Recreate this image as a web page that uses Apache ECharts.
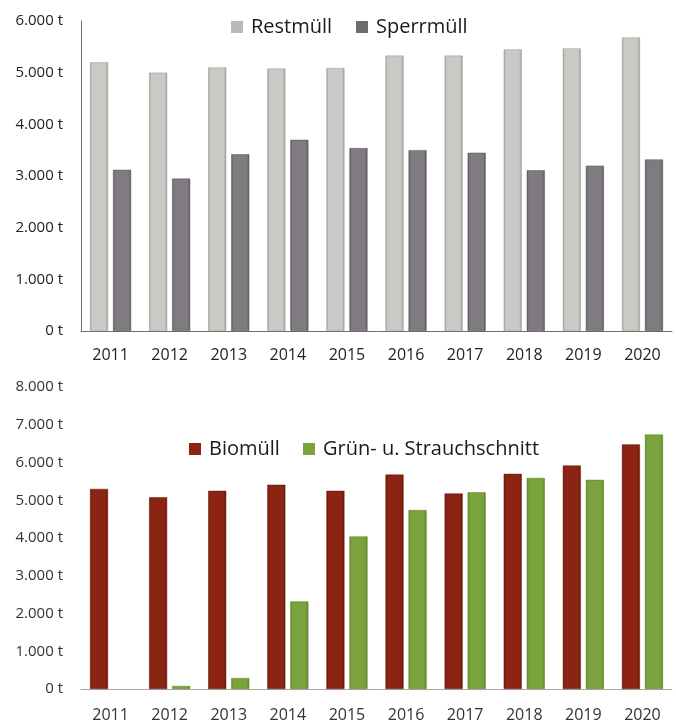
<!DOCTYPE html>
<html>
<head>
<meta charset="utf-8">
<script src="https://cdn.jsdelivr.net/npm/echarts@6/dist/echarts.min.js"></script>
<style>
html,body{margin:0;padding:0;background:#fff;}
#c{width:676px;height:723px;}
</style>
</head>
<body>
<div id="c"></div>
<script>
const years = ['2011','2012','2013','2014','2015','2016','2017','2018','2019','2020'];
const restmuell = [5200, 5000, 5100, 5080, 5090, 5330, 5330, 5450, 5470, 5680];
const sperrmuell = [3120, 2950, 3420, 3700, 3540, 3500, 3450, 3110, 3200, 3320];
const biomuell = [5300, 5080, 5250, 5410, 5250, 5680, 5180, 5700, 5920, 6480];
const gruen = [null, 80, 290, 2320, 4040, 4740, 5210, 5590, 5540, 6740];
const topTicks = {min: 0, max: 6000, interval: 1000};
const botTicks = {min: 0, max: 8000, interval: 1000};

const FONT = 'Open Sans';
function fmt(v){ return String(v).replace(/\B(?=(\d{3})+(?!\d))/g, '.') + ' t'; }
function grad(edge, mid){
  return new echarts.graphic.LinearGradient(0,0,1,0,[
    {offset:0, color: edge},
    {offset:0.12, color: mid},
    {offset:0.85, color: mid},
    {offset:1, color: edge}
  ]);
}
const cRest = grad('#9e9f9a', '#c9cac5');
const cSperr = grad('#5c585d', '#7f7b80');
const cBio = grad('#6a1a0c', '#8b2412');
const cGruen = grad('#5e8428', '#7ba33d');

const chart = echarts.init(document.getElementById('c'), null, {renderer:'canvas'});
const legendText = {fontFamily: FONT, fontSize: 20, color: '#1a1a1a', padding:[0,0,0,3]};
function lg(name, left, top, color){
  return {data:[name], left: left, top: top, itemWidth: 12, itemHeight: 12, icon:'rect',
          itemStyle:{color: color, borderWidth: 0}, textStyle: legendText};
}
chart.setOption({
  animation: false,
  backgroundColor: '#fff',
  grid: [
    {left: 81, width: 591, top: 21, height: 310},
    {left: 81, width: 591, top: 387, height: 306}
  ],
  legend: [
    lg('Restmüll', 226, 12, '#b9bab5'),
    lg('Sperrmüll', 351, 12, '#6f6b70'),
    lg('Biomüll', 184, 434, '#8b2412'),
    lg('Grün- u. Strauchschnitt', 298, 434, '#7ba33d')
  ],
  xAxis: [
    {type:'category', data: years, gridIndex: 0,
     axisLine:{show:true, lineStyle:{color:'#6e6e6e', width:1}}, axisTick:{show:false},
     axisLabel:{fontFamily: FONT, fontSize: 16, color:'#222', margin: 16}},
    {type:'category', data: years, gridIndex: 1,
     axisLine:{show:true, lineStyle:{color:'#aaaaaa', width:1}}, axisTick:{show:false},
     axisLabel:{fontFamily: FONT, fontSize: 16, color:'#333', margin: 18}}
  ],
  yAxis: [
    {type:'value', gridIndex: 0, min: topTicks.min, max: topTicks.max, interval: topTicks.interval,
     axisLine:{show:true, lineStyle:{color:'#6e6e6e', width:1}}, axisTick:{show:false}, splitLine:{show:false},
     axisLabel:{fontFamily: FONT, fontSize: 15, color:'#222', margin: 18, formatter: fmt}},
    {type:'value', gridIndex: 1, min: botTicks.min, max: botTicks.max, interval: botTicks.interval,
     axisLine:{show:false}, axisTick:{show:false}, splitLine:{show:false},
     axisLabel:{fontFamily: FONT, fontSize: 15, color:'#333', margin: 18, formatter: fmt}}
  ],
  series: [
    {name:'Restmüll', type:'bar', xAxisIndex:0, yAxisIndex:0, data: restmuell, barWidth: 18, barGap:'28%',
     itemStyle:{color: cRest, borderColor:'#9a9b96', borderWidth:0.5}},
    {name:'Sperrmüll', type:'bar', xAxisIndex:0, yAxisIndex:0, data: sperrmuell, barWidth: 18, barGap:'28%',
     itemStyle:{color: cSperr, borderColor:'#58545a', borderWidth:0.5}},
    {name:'Biomüll', type:'bar', xAxisIndex:1, yAxisIndex:1, data: biomuell, barWidth: 18, barGap:'28%',
     itemStyle:{color: cBio, borderColor:'#641608', borderWidth:0.5}},
    {name:'Grün- u. Strauchschnitt', type:'bar', xAxisIndex:1, yAxisIndex:1, data: gruen, barWidth: 18, barGap:'28%',
     itemStyle:{color: cGruen, borderColor:'#5a7f25', borderWidth:0.5}}
  ]
});
</script>
</body>
</html>
